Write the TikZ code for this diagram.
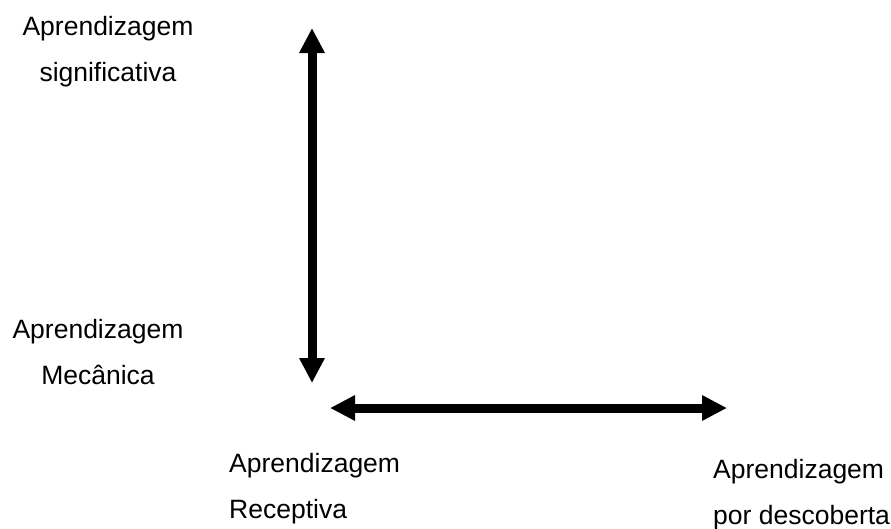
\documentclass[tikz,border=0pt]{standalone}
\usepackage{fontspec}
\setmainfont{Liberation Sans}
\usepackage{tikz}
\usetikzlibrary{arrows.meta,positioning}

\tikzset{
  eixo/.style={line width=9pt,
    {Triangle[length=25pt,width=24pt]}-{Triangle[length=25pt,width=24pt]}},
  rotulo/.style={font=\fontsize{26.5}{46}\selectfont, inner sep=0pt}
}

\begin{document}
\begin{tikzpicture}[x=1pt,y=-1pt]
\useasboundingbox[fill=white] (0,0) rectangle (891,528);

% rotulos
\node[rotulo, align=center, anchor=north] (signif) at (108,16) {Aprendizagem\\significativa};
\node[rotulo, align=center, anchor=north] (mecan) at (98,319) {Aprendizagem\\Mecânica};
\node[rotulo, align=left, anchor=north west] (recep) at (229,453) {Aprendizagem\\Receptiva};
\node[rotulo, align=left, anchor=north west] (descob) at (713,459) {Aprendizagem\\por descoberta};

% eixos
\coordinate (topo) at (312,28);
\coordinate (base) at (312,383);
\coordinate (esq) at (330,408);
\coordinate (dir) at (727,408);
\draw[eixo] (topo) -- (base);
\draw[eixo] (esq) -- (dir);
\end{tikzpicture}
\end{document}
